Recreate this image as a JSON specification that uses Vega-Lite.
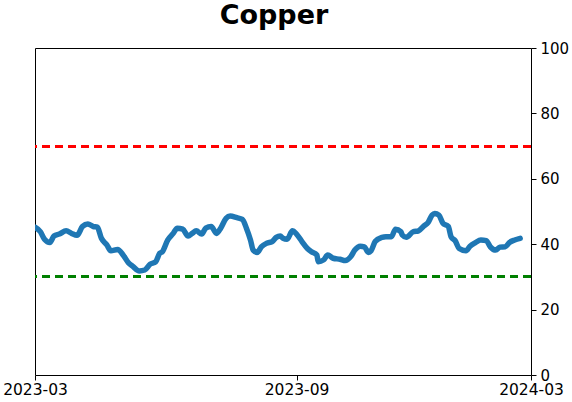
{
  "$schema": "https://vega.github.io/schema/vega-lite/v6.json",
  "width": 496,
  "height": 327,
  "autosize": "none",
  "padding": {"left": 35, "top": 48, "right": 41, "bottom": 27},
  "title": {
    "text": "Copper",
    "fontSize": 27,
    "fontWeight": "bold",
    "font": "DejaVu Sans",
    "color": "black",
    "baseline": "bottom",
    "offset": 20,
    "dx": -9,
    "dy": 36
  },
  "data": {
    "values": [
      {"date": "2023-03-01", "value": 45.2},
      {"date": "2023-03-05", "value": 43.8},
      {"date": "2023-03-08", "value": 41.5},
      {"date": "2023-03-12", "value": 40.5},
      {"date": "2023-03-15", "value": 42.5},
      {"date": "2023-03-19", "value": 43.1},
      {"date": "2023-03-24", "value": 44.1},
      {"date": "2023-03-28", "value": 43.3},
      {"date": "2023-04-01", "value": 42.7},
      {"date": "2023-04-05", "value": 45.4},
      {"date": "2023-04-09", "value": 46.2},
      {"date": "2023-04-13", "value": 45.4},
      {"date": "2023-04-16", "value": 45.2},
      {"date": "2023-04-19", "value": 41.8},
      {"date": "2023-04-23", "value": 39.8},
      {"date": "2023-04-26", "value": 38.0},
      {"date": "2023-05-01", "value": 38.4},
      {"date": "2023-05-05", "value": 36.7},
      {"date": "2023-05-09", "value": 34.3},
      {"date": "2023-05-12", "value": 33.3},
      {"date": "2023-05-17", "value": 31.8},
      {"date": "2023-05-21", "value": 32.1},
      {"date": "2023-05-25", "value": 33.9},
      {"date": "2023-05-29", "value": 34.6},
      {"date": "2023-06-01", "value": 37.2},
      {"date": "2023-06-03", "value": 37.7},
      {"date": "2023-06-07", "value": 41.3},
      {"date": "2023-06-11", "value": 43.3},
      {"date": "2023-06-14", "value": 44.9},
      {"date": "2023-06-18", "value": 44.6},
      {"date": "2023-06-22", "value": 42.5},
      {"date": "2023-06-25", "value": 43.3},
      {"date": "2023-06-28", "value": 44.1},
      {"date": "2023-07-02", "value": 43.1},
      {"date": "2023-07-05", "value": 44.9},
      {"date": "2023-07-09", "value": 45.4},
      {"date": "2023-07-13", "value": 43.3},
      {"date": "2023-07-16", "value": 44.9},
      {"date": "2023-07-20", "value": 47.9},
      {"date": "2023-07-23", "value": 48.6},
      {"date": "2023-07-28", "value": 48.1},
      {"date": "2023-08-01", "value": 47.6},
      {"date": "2023-08-04", "value": 44.9},
      {"date": "2023-08-07", "value": 41.3},
      {"date": "2023-08-09", "value": 38.2},
      {"date": "2023-08-12", "value": 37.5},
      {"date": "2023-08-15", "value": 39.2},
      {"date": "2023-08-19", "value": 40.3},
      {"date": "2023-08-23", "value": 40.8},
      {"date": "2023-08-26", "value": 42.1},
      {"date": "2023-08-29", "value": 42.5},
      {"date": "2023-08-31", "value": 41.8},
      {"date": "2023-09-03", "value": 41.5},
      {"date": "2023-09-07", "value": 44.1},
      {"date": "2023-09-10", "value": 43.1},
      {"date": "2023-09-14", "value": 40.8},
      {"date": "2023-09-18", "value": 38.7},
      {"date": "2023-09-21", "value": 37.7},
      {"date": "2023-09-25", "value": 36.7},
      {"date": "2023-09-26", "value": 34.6},
      {"date": "2023-09-30", "value": 35.2},
      {"date": "2023-10-03", "value": 36.7},
      {"date": "2023-10-07", "value": 35.7},
      {"date": "2023-10-12", "value": 35.4},
      {"date": "2023-10-16", "value": 35.0},
      {"date": "2023-10-20", "value": 36.2},
      {"date": "2023-10-23", "value": 38.2},
      {"date": "2023-10-27", "value": 39.4},
      {"date": "2023-10-30", "value": 39.2},
      {"date": "2023-11-02", "value": 37.5},
      {"date": "2023-11-04", "value": 38.0},
      {"date": "2023-11-07", "value": 40.8},
      {"date": "2023-11-12", "value": 42.1},
      {"date": "2023-11-15", "value": 42.3},
      {"date": "2023-11-19", "value": 42.3},
      {"date": "2023-11-22", "value": 44.6},
      {"date": "2023-11-26", "value": 43.8},
      {"date": "2023-11-27", "value": 42.8},
      {"date": "2023-11-30", "value": 42.1},
      {"date": "2023-12-05", "value": 43.8},
      {"date": "2023-12-09", "value": 44.1},
      {"date": "2023-12-13", "value": 45.6},
      {"date": "2023-12-16", "value": 46.6},
      {"date": "2023-12-19", "value": 48.9},
      {"date": "2023-12-21", "value": 49.4},
      {"date": "2023-12-24", "value": 48.9},
      {"date": "2023-12-27", "value": 46.4},
      {"date": "2023-12-31", "value": 45.4},
      {"date": "2024-01-02", "value": 42.3},
      {"date": "2024-01-05", "value": 41.1},
      {"date": "2024-01-08", "value": 38.7},
      {"date": "2024-01-13", "value": 38.0},
      {"date": "2024-01-16", "value": 39.4},
      {"date": "2024-01-20", "value": 40.5},
      {"date": "2024-01-24", "value": 41.3},
      {"date": "2024-01-28", "value": 41.1},
      {"date": "2024-01-31", "value": 39.2},
      {"date": "2024-02-04", "value": 38.2},
      {"date": "2024-02-07", "value": 39.1},
      {"date": "2024-02-11", "value": 39.2},
      {"date": "2024-02-14", "value": 40.5},
      {"date": "2024-02-18", "value": 41.3},
      {"date": "2024-02-22", "value": 41.8}
    ]
  },
  "layer": [
    {
      "mark": {"type": "rule", "color": "#ff0000", "strokeWidth": 2.2, "strokeDash": [8, 5]},
      "encoding": {"y": {"datum": 70, "type": "quantitative"}}
    },
    {
      "mark": {"type": "rule", "color": "#008000", "strokeWidth": 2.2, "strokeDash": [8, 5]},
      "encoding": {"y": {"datum": 30, "type": "quantitative"}}
    },
    {
      "mark": {"type": "line", "color": "#1f77b4", "strokeWidth": 5.5, "strokeCap": "round", "strokeJoin": "round", "interpolate": "monotone", "clip": true},
      "encoding": {
        "x": {
          "field": "date",
          "type": "temporal",
          "scale": {
            "type": "utc",
            "domain": [
              {"year": 2023, "month": 3, "date": 1, "utc": true},
              {"year": 2024, "month": 3, "date": 1, "utc": true}
            ],
            "nice": false
          },
          "axis": {
            "title": null,
            "format": "%Y-%m",
            "values": [
              {"year": 2023, "month": 3, "date": 1, "utc": true},
              {"year": 2023, "month": 9, "date": 10, "utc": true},
              {"year": 2024, "month": 3, "date": 1, "utc": true}
            ],
            "grid": false,
            "domain": false,
            "tickColor": "black",
            "tickSize": 5,
            "labelFontSize": 15.5,
            "labelFont": "DejaVu Sans",
            "labelColor": "black",
            "labelPadding": 2,
            "labelFlush": false,
            "labelOverlap": false
          }
        },
        "y": {
          "field": "value",
          "type": "quantitative",
          "scale": {"domain": [0, 100], "nice": false, "zero": false},
          "axis": {
            "orient": "right",
            "title": null,
            "values": [0, 20, 40, 60, 80, 100],
            "grid": false,
            "domain": false,
            "tickColor": "black",
            "tickSize": 5,
            "labelFontSize": 15,
            "labelFont": "DejaVu Sans",
            "labelColor": "black",
            "labelPadding": 4
          }
        }
      }
    }
  ],
  "config": {
    "view": {"stroke": "black", "strokeWidth": 1}
  }
}
